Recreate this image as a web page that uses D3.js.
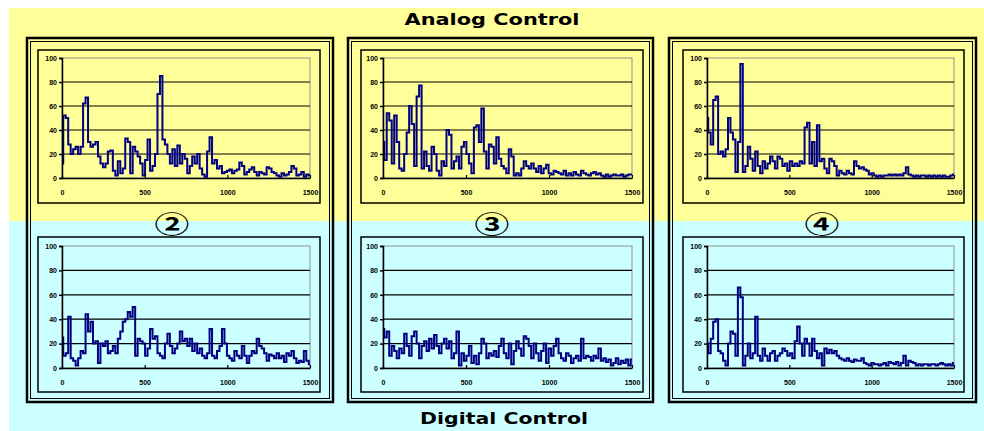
<!DOCTYPE html>
<html>
<head>
<meta charset="utf-8">
<script src="https://cdn.jsdelivr.net/npm/d3@7"></script>
<style>
  html, body { margin: 0; padding: 0; background: #ffffff; }
  svg { display: block; }
</style>
</head>
<body>
<svg id="chart" width="984" height="431"></svg>
<script>
// ---------------- DATA ----------------
const xTicks = [0, 500, 1000, 1500];
const yTicks = [0, 20, 40, 60, 80, 100];
const xDomain = [0, 1500];
const yDomain = [0, 100];
const sampleStep = 15; // Hz between samples
const panelLabels = ["②", "③", "④"];
const topTitle = "Analog Control";
const bottomTitle = "Digital Control";

const analog2 = [12,52,50,28,20,24,26,20,26,62,67,30,26,28,30,18,12,9,12,22,23,6,2,14,4,8,33,30,4,26,22,18,12,2,15,32,6,10,20,70,85,32,28,20,12,24,10,27,12,20,16,4,10,18,12,20,8,3,1,22,34,12,15,8,10,4,5,6,7,4,6,7,13,10,3,5,7,9,5,2,5,4,3,9,8,5,4,2,1,4,2,3,5,10,8,2,3,5,1,3,2];
const analog3 = [30,15,54,48,12,52,30,8,6,20,38,60,45,10,68,77,8,22,10,6,26,20,6,2,14,10,40,36,8,14,18,8,26,30,20,12,4,42,44,30,58,22,8,28,26,12,34,16,10,8,4,24,18,2,4,2,8,14,10,8,12,8,5,10,4,8,11,4,3,6,5,4,3,6,2,4,2,5,3,2,6,4,3,2,4,5,3,4,2,1,3,1,2,3,2,2,3,1,2,3,3];
const analog4 = [50,38,28,65,68,20,22,18,24,50,38,32,5,30,95,5,10,26,16,6,22,10,4,14,8,12,18,14,8,18,16,10,12,6,14,10,12,10,14,12,42,46,12,30,10,44,14,16,8,4,16,14,10,2,6,4,3,6,4,3,14,10,8,9,7,6,3,4,2,1,2,1,2,2,3,2,3,2,3,2,4,9,3,2,1,2,1,2,2,1,2,1,2,1,2,1,2,1,1,2,3];
const digital2 = [25,10,12,42,8,6,2,8,14,12,44,30,38,20,22,4,20,18,22,12,14,18,12,24,30,38,40,46,42,50,10,24,22,20,10,16,32,24,26,12,10,8,20,28,18,12,16,20,30,22,24,18,24,14,20,12,16,10,8,12,32,10,8,14,18,32,20,10,8,6,14,10,8,18,10,4,10,14,12,24,18,16,12,6,11,10,8,12,8,10,5,12,10,14,8,4,6,5,14,6,3];
const digital3 = [32,25,30,10,18,14,8,16,12,28,18,10,26,30,20,8,18,22,14,24,16,27,18,12,20,24,16,22,8,12,30,2,12,6,10,18,4,10,3,12,24,20,8,12,10,14,9,18,24,12,8,20,3,14,22,16,10,26,24,18,8,20,12,6,14,20,4,16,10,18,24,12,8,6,12,10,4,8,10,6,24,8,10,9,6,10,8,16,6,8,5,7,2,4,8,3,6,4,7,2,7];
const digital4 = [20,12,24,38,40,14,12,6,2,20,30,28,10,66,58,2,10,20,8,12,42,10,6,16,10,6,12,14,6,10,12,16,14,10,12,8,22,34,20,10,24,20,10,24,14,8,12,2,16,12,15,12,14,10,8,7,6,8,6,5,7,6,6,8,4,3,2,4,3,3,2,3,4,2,5,4,3,5,2,4,10,2,6,5,4,2,3,2,3,3,2,3,3,2,3,4,3,2,3,2,4];

const analogSeries = [analog2, analog3, analog4];
const digitalSeries = [digital2, digital3, digital4];

// ---------------- LAYOUT ----------------
const W = 984, H = 431;
const colYellow = "#ffff99", colCyan = "#ccffff", colLine = "#000080";
const panels = [
  {ox0: 27,  ox1: 333, bx0: 38,  bx1: 320, px0: 62,  px1: 310, lx: 172},
  {ox0: 348, ox1: 653, bx0: 361, bx1: 643, px0: 383, px1: 632, lx: 492},
  {ox0: 669, ox1: 976, bx0: 683, bx1: 964, px0: 707, px1: 954, lx: 822}
];
const rows = [
  {by0: 50,  by1: 203, py0: 58,  py1: 178},
  {by0: 237, by1: 392, py0: 246, py1: 368}
];
const outerY0 = 38, outerY1 = 402;

const svg = d3.select("#chart");

// backgrounds
svg.append("rect").attr("x", 9).attr("y", 8).attr("width", W - 9).attr("height", 221 - 8).attr("fill", colYellow);
svg.append("rect").attr("x", 9).attr("y", 221).attr("width", W - 9).attr("height", H - 221).attr("fill", colCyan);

// titles
svg.append("text").text(topTitle)
  .attr("x", 492).attr("y", 25).attr("text-anchor", "middle")
  .attr("font-family", "DejaVu Sans").attr("font-weight", "bold").attr("font-size", 16)
  .attr("textLength", 175).attr("lengthAdjust", "spacingAndGlyphs").attr("fill", "#000");
svg.append("text").text(bottomTitle)
  .attr("x", 504).attr("y", 424).attr("text-anchor", "middle")
  .attr("font-family", "DejaVu Sans").attr("font-weight", "bold").attr("font-size", 16)
  .attr("textLength", 168).attr("lengthAdjust", "spacingAndGlyphs").attr("fill", "#000");

panels.forEach((p, pi) => {
  // outer double frame
  svg.append("rect").attr("x", p.ox0).attr("y", outerY0)
    .attr("width", p.ox1 - p.ox0).attr("height", outerY1 - outerY0)
    .attr("fill", "none").attr("stroke", "#000").attr("stroke-width", 2.5);
  svg.append("rect").attr("x", p.ox0 + 3.5).attr("y", outerY0 + 3.5)
    .attr("width", p.ox1 - p.ox0 - 7).attr("height", outerY1 - outerY0 - 7)
    .attr("fill", "none").attr("stroke", "#000").attr("stroke-width", 1);

  // circled label
  const lab = svg.append("g").attr("transform", `translate(${p.lx},223) scale(1.45,1)`);
  lab.append("text").text(panelLabels[pi])
    .attr("x", 0).attr("y", 0).attr("text-anchor", "middle").attr("dominant-baseline", "central")
    .attr("font-family", "Noto Sans CJK JP").attr("font-weight", "bold").attr("font-size", 24)
    .attr("fill", "#000");

  rows.forEach((r, ri) => {
    const data = ri === 0 ? analogSeries[pi] : digitalSeries[pi];
    const g = svg.append("g");
    // chart box
    g.append("rect").attr("x", p.bx0).attr("y", r.by0)
      .attr("width", p.bx1 - p.bx0).attr("height", r.by1 - r.by0)
      .attr("fill", "none").attr("stroke", "#000").attr("stroke-width", 1.5);

    const x = d3.scaleLinear().domain(xDomain).range([p.px0, p.px1]);
    const y = d3.scaleLinear().domain(yDomain).range([r.py1, r.py0]);

    // plot border (gray top/right)
    g.append("rect").attr("x", p.px0).attr("y", r.py0)
      .attr("width", p.px1 - p.px0).attr("height", r.py1 - r.py0)
      .attr("fill", "none").attr("stroke", "#909090").attr("stroke-width", 1);

    // gridlines
    g.selectAll("line.grid").data(yTicks.filter(t => t > 0 && t < 100)).enter()
      .append("line").attr("class", "grid")
      .attr("x1", p.px0).attr("x2", p.px1)
      .attr("y1", d => y(d)).attr("y2", d => y(d))
      .attr("stroke", "#000").attr("stroke-width", 1.2);

    // data line
    const line = d3.line()
      .x((d, i) => x(i * sampleStep))
      .y(d => y(d))
      .curve(d3.curveStep);
    g.append("path").datum(data)
      .attr("d", line).attr("fill", "none")
      .attr("stroke", colLine).attr("stroke-width", 2);

    // axes
    const yAxis = d3.axisLeft(y).tickValues(yTicks).tickSize(3).tickPadding(2).tickFormat(d3.format("d"));
    const ya = g.append("g").attr("transform", `translate(${p.px0},0)`).call(yAxis);
    ya.select(".domain").attr("stroke", "#000").attr("stroke-width", 1.5);
    ya.selectAll(".tick line").attr("stroke", "#000").attr("stroke-width", 1.5);
    ya.selectAll(".tick text")
      .attr("font-family", "Liberation Sans").attr("font-weight", "bold").attr("font-size", 7).attr("fill", "#000");

    const xAxis = d3.axisBottom(x).tickValues(xTicks).tickSizeInner(-3).tickSizeOuter(0).tickPadding(12)
      .tickFormat(d3.format("d"));
    const xa = g.append("g").attr("transform", `translate(0,${r.py1})`).call(xAxis);
    xa.select(".domain").attr("stroke", "#000").attr("stroke-width", 1.5);
    xa.selectAll(".tick line").attr("stroke", "#000").attr("stroke-width", 1.2);
    xa.selectAll(".tick text")
      .attr("font-family", "Liberation Sans").attr("font-weight", "bold").attr("font-size", 7).attr("fill", "#000");
  });
});
</script>
</body>
</html>
